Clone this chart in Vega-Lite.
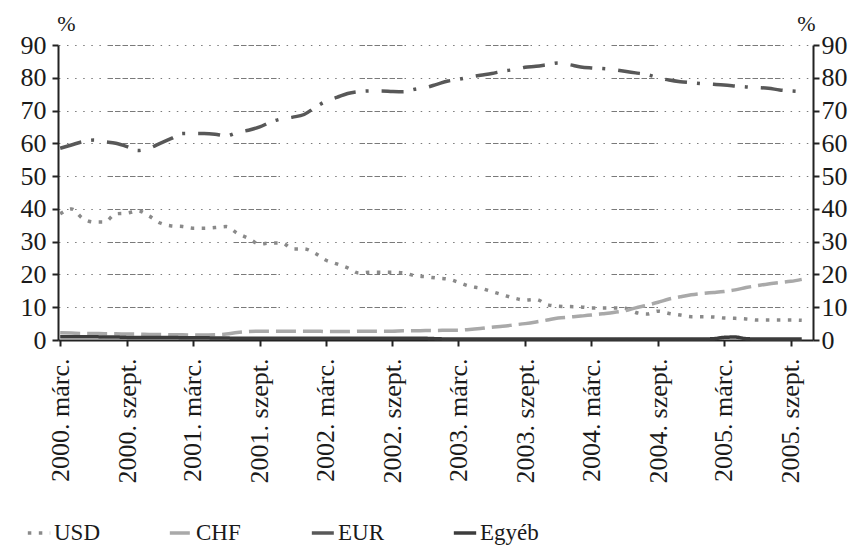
{
  "$schema": "https://vega.github.io/schema/vega-lite/v6.json",
  "width": 755,
  "height": 295,
  "autosize": {"type": "none"},
  "padding": {"left": 58, "top": 45, "right": 48, "bottom": 206},
  "background": "#ffffff",
  "config": {
    "font": "Liberation Serif",
    "view": {"stroke": null},
    "style": {
      "guide-label": {"font": "Liberation Serif", "fill": "#1a1a1a"},
      "guide-title": {"font": "Liberation Serif", "fill": "#1a1a1a"}
    },
    "axis": {
      "labelFont": "Liberation Serif",
      "labelColor": "#1a1a1a",
      "domainColor": "#222222",
      "domainWidth": 2,
      "tickColor": "#222222",
      "tickWidth": 2,
      "tickSize": 6,
      "titleFont": "Liberation Serif",
      "titleFontWeight": "normal",
      "titleColor": "#1a1a1a"
    },
    "legend": {
      "orient": "none",
      "legendX": -32,
      "legendY": 475,
      "direction": "horizontal",
      "columns": 4,
      "gridAlign": "all",
      "columnPadding": 49,
      "padding": 0,
      "symbolType": "stroke",
      "symbolSize": 500,
      "symbolStrokeWidth": 3.5,
      "labelFont": "Liberation Serif",
      "labelFontSize": 23,
      "labelColor": "#1a1a1a",
      "labelOffset": 2
    }
  },
  "data": {
    "values": [
      {"date": "2000-03-01", "USD": 38.5, "CHF": 2.2, "EUR": 58.5, "Egyéb": 1.0},
      {"date": "2000-04-01", "USD": 40.0, "CHF": 2.1, "EUR": 59.5, "Egyéb": 1.0},
      {"date": "2000-05-01", "USD": 37.2, "CHF": 2.0, "EUR": 60.5, "Egyéb": 1.0},
      {"date": "2000-06-01", "USD": 36.0, "CHF": 2.0, "EUR": 61.0, "Egyéb": 1.0},
      {"date": "2000-07-01", "USD": 36.0, "CHF": 1.9, "EUR": 60.5, "Egyéb": 0.9},
      {"date": "2000-08-01", "USD": 38.5, "CHF": 1.9, "EUR": 60.0, "Egyéb": 0.9},
      {"date": "2000-09-01", "USD": 38.7, "CHF": 1.8, "EUR": 59.0, "Egyéb": 0.8},
      {"date": "2000-10-01", "USD": 39.4, "CHF": 1.8, "EUR": 57.8, "Egyéb": 0.8},
      {"date": "2000-11-01", "USD": 37.8, "CHF": 1.7, "EUR": 58.5, "Egyéb": 0.8},
      {"date": "2000-12-01", "USD": 35.7, "CHF": 1.7, "EUR": 60.0, "Egyéb": 0.8},
      {"date": "2001-01-01", "USD": 34.8, "CHF": 1.6, "EUR": 61.5, "Egyéb": 0.8},
      {"date": "2001-02-01", "USD": 34.6, "CHF": 1.6, "EUR": 63.0, "Egyéb": 0.7},
      {"date": "2001-03-01", "USD": 34.1, "CHF": 1.5, "EUR": 63.0, "Egyéb": 0.7},
      {"date": "2001-04-01", "USD": 34.1, "CHF": 1.5, "EUR": 63.0, "Egyéb": 0.7},
      {"date": "2001-05-01", "USD": 34.3, "CHF": 1.6, "EUR": 62.8, "Egyéb": 0.6},
      {"date": "2001-06-01", "USD": 34.6, "CHF": 1.8, "EUR": 62.3, "Egyéb": 0.6},
      {"date": "2001-07-01", "USD": 32.6, "CHF": 2.3, "EUR": 63.3, "Egyéb": 0.5},
      {"date": "2001-08-01", "USD": 31.0, "CHF": 2.6, "EUR": 64.0, "Egyéb": 0.5},
      {"date": "2001-09-01", "USD": 29.3, "CHF": 2.7, "EUR": 65.0, "Egyéb": 0.5},
      {"date": "2001-10-01", "USD": 29.6, "CHF": 2.7, "EUR": 66.5, "Egyéb": 0.5},
      {"date": "2001-11-01", "USD": 29.6, "CHF": 2.7, "EUR": 67.5, "Egyéb": 0.5},
      {"date": "2001-12-01", "USD": 27.8, "CHF": 2.7, "EUR": 68.0, "Egyéb": 0.5},
      {"date": "2002-01-01", "USD": 27.8, "CHF": 2.7, "EUR": 68.8, "Egyéb": 0.5},
      {"date": "2002-02-01", "USD": 26.4, "CHF": 2.7, "EUR": 71.0, "Egyéb": 0.5},
      {"date": "2002-03-01", "USD": 24.4, "CHF": 2.6, "EUR": 72.8, "Egyéb": 0.5},
      {"date": "2002-04-01", "USD": 23.2, "CHF": 2.6, "EUR": 74.0, "Egyéb": 0.5},
      {"date": "2002-05-01", "USD": 22.0, "CHF": 2.6, "EUR": 75.2, "Egyéb": 0.5},
      {"date": "2002-06-01", "USD": 20.4, "CHF": 2.7, "EUR": 75.8, "Egyéb": 0.5},
      {"date": "2002-07-01", "USD": 20.7, "CHF": 2.7, "EUR": 76.0, "Egyéb": 0.5},
      {"date": "2002-08-01", "USD": 20.7, "CHF": 2.7, "EUR": 76.0, "Egyéb": 0.5},
      {"date": "2002-09-01", "USD": 20.7, "CHF": 2.7, "EUR": 75.8, "Egyéb": 0.5},
      {"date": "2002-10-01", "USD": 20.5, "CHF": 2.8, "EUR": 75.7, "Egyéb": 0.5},
      {"date": "2002-11-01", "USD": 19.6, "CHF": 2.8, "EUR": 76.5, "Egyéb": 0.5},
      {"date": "2002-12-01", "USD": 19.3, "CHF": 2.9, "EUR": 77.0, "Egyéb": 0.5},
      {"date": "2003-01-01", "USD": 18.9, "CHF": 2.9, "EUR": 78.0, "Egyéb": 0.4},
      {"date": "2003-02-01", "USD": 18.6, "CHF": 3.0, "EUR": 79.0, "Egyéb": 0.3},
      {"date": "2003-03-01", "USD": 17.6, "CHF": 3.0, "EUR": 79.5, "Egyéb": 0.3},
      {"date": "2003-04-01", "USD": 16.4, "CHF": 3.2, "EUR": 80.2, "Egyéb": 0.3},
      {"date": "2003-05-01", "USD": 15.8, "CHF": 3.5, "EUR": 80.8, "Egyéb": 0.3},
      {"date": "2003-06-01", "USD": 14.8, "CHF": 3.9, "EUR": 81.3, "Egyéb": 0.3},
      {"date": "2003-07-01", "USD": 13.8, "CHF": 4.2, "EUR": 82.0, "Egyéb": 0.3},
      {"date": "2003-08-01", "USD": 12.8, "CHF": 4.6, "EUR": 82.5, "Egyéb": 0.3},
      {"date": "2003-09-01", "USD": 12.2, "CHF": 5.0, "EUR": 83.2, "Egyéb": 0.3},
      {"date": "2003-10-01", "USD": 12.4, "CHF": 5.5, "EUR": 83.5, "Egyéb": 0.3},
      {"date": "2003-11-01", "USD": 10.8, "CHF": 6.1, "EUR": 84.0, "Egyéb": 0.3},
      {"date": "2003-12-01", "USD": 10.3, "CHF": 6.7, "EUR": 84.5, "Egyéb": 0.3},
      {"date": "2004-01-01", "USD": 10.2, "CHF": 7.0, "EUR": 84.0, "Egyéb": 0.3},
      {"date": "2004-02-01", "USD": 10.1, "CHF": 7.3, "EUR": 83.3, "Egyéb": 0.3},
      {"date": "2004-03-01", "USD": 9.8, "CHF": 7.6, "EUR": 83.0, "Egyéb": 0.3},
      {"date": "2004-04-01", "USD": 9.8, "CHF": 8.0, "EUR": 82.8, "Egyéb": 0.3},
      {"date": "2004-05-01", "USD": 9.8, "CHF": 8.4, "EUR": 82.5, "Egyéb": 0.3},
      {"date": "2004-06-01", "USD": 9.7, "CHF": 8.9, "EUR": 82.0, "Egyéb": 0.3},
      {"date": "2004-07-01", "USD": 8.4, "CHF": 9.8, "EUR": 81.5, "Egyéb": 0.3},
      {"date": "2004-08-01", "USD": 7.9, "CHF": 10.6, "EUR": 81.0, "Egyéb": 0.3},
      {"date": "2004-09-01", "USD": 8.8, "CHF": 11.5, "EUR": 80.0, "Egyéb": 0.3},
      {"date": "2004-10-01", "USD": 8.1, "CHF": 12.5, "EUR": 79.3, "Egyéb": 0.3},
      {"date": "2004-11-01", "USD": 7.6, "CHF": 13.2, "EUR": 78.8, "Egyéb": 0.3},
      {"date": "2004-12-01", "USD": 7.1, "CHF": 13.8, "EUR": 78.5, "Egyéb": 0.3},
      {"date": "2005-01-01", "USD": 7.1, "CHF": 14.2, "EUR": 78.2, "Egyéb": 0.3},
      {"date": "2005-02-01", "USD": 7.0, "CHF": 14.5, "EUR": 78.0, "Egyéb": 0.4},
      {"date": "2005-03-01", "USD": 6.7, "CHF": 14.8, "EUR": 77.8, "Egyéb": 0.8},
      {"date": "2005-04-01", "USD": 6.6, "CHF": 15.3, "EUR": 77.5, "Egyéb": 0.9},
      {"date": "2005-05-01", "USD": 6.4, "CHF": 16.0, "EUR": 77.2, "Egyéb": 0.4},
      {"date": "2005-06-01", "USD": 6.1, "CHF": 16.6, "EUR": 77.0, "Egyéb": 0.3},
      {"date": "2005-07-01", "USD": 6.1, "CHF": 17.1, "EUR": 76.8, "Egyéb": 0.3},
      {"date": "2005-08-01", "USD": 6.1, "CHF": 17.5, "EUR": 76.3, "Egyéb": 0.3},
      {"date": "2005-09-01", "USD": 6.1, "CHF": 17.9, "EUR": 76.0, "Egyéb": 0.3},
      {"date": "2005-10-01", "USD": 6.0, "CHF": 18.5, "EUR": 75.8, "Egyéb": 0.3}
    ]
  },
  "transform": [
    {"fold": ["USD", "CHF", "EUR", "Egyéb"], "as": ["series", "value"]}
  ],
  "layer": [
    {
      "mark": {"type": "line", "strokeWidth": 3.5, "interpolate": "monotone"},
      "encoding": {
        "x": {
          "field": "date",
          "type": "temporal",
          "scale": {
            "type": "utc",
            "domain": [
              {"year": 2000, "month": 2, "date": 24, "utc": true},
              {"year": 2005, "month": 11, "date": 1, "utc": true}
            ]
          },
          "axis": {
            "title": null,
            "grid": false,
            "values": [
              {"year": 2000, "month": 3, "date": 1, "utc": true},
              {"year": 2000, "month": 9, "date": 1, "utc": true},
              {"year": 2001, "month": 3, "date": 1, "utc": true},
              {"year": 2001, "month": 9, "date": 1, "utc": true},
              {"year": 2002, "month": 3, "date": 1, "utc": true},
              {"year": 2002, "month": 9, "date": 1, "utc": true},
              {"year": 2003, "month": 3, "date": 1, "utc": true},
              {"year": 2003, "month": 9, "date": 1, "utc": true},
              {"year": 2004, "month": 3, "date": 1, "utc": true},
              {"year": 2004, "month": 9, "date": 1, "utc": true},
              {"year": 2005, "month": 3, "date": 1, "utc": true},
              {"year": 2005, "month": 9, "date": 1, "utc": true}
            ],
            "labelExpr": "utcFormat(datum.value, '%Y') + '. ' + (utcmonth(datum.value) == 2 ? 'márc.' : 'szept.')",
            "labelAngle": 270,
            "labelFontSize": 26,
            "labelPadding": 12,
            "labelOverlap": false,
            "labelFlush": false
          }
        },
        "y": {
          "field": "value",
          "type": "quantitative",
          "scale": {"domain": [0, 90], "nice": false},
          "axis": {
            "orient": "left",
            "values": [0, 10, 20, 30, 40, 50, 60, 70, 80, 90],
            "title": "%",
            "titleAngle": 0,
            "titleX": 8,
            "titleY": -22,
            "titleAlign": "center",
            "titleBaseline": "middle",
            "titleFontSize": 22,
            "labelFontSize": 26,
            "labelPadding": 6,
            "grid": true,
            "gridColor": "#7a7a7a",
            "gridWidth": 1.2,
            "gridDash": [1.5, 6.6, 1.5, 6.6, 1.5, 6.6, 1.5, 6.6, 1.5, 6.6, 1.5, 6.6, 1.5, 6.6, 1.5, 6.6, 1.5, 6.6, 1.5, 6.6, 5.5, 2, 5.5, 2, 5.5, 2, 5.5, 2, 5.5, 2, 5.5, 2],
            "gridDashOffset": 32
          }
        },
        "color": {
          "field": "series",
          "type": "nominal",
          "title": null,
          "scale": {
            "domain": ["USD", "CHF", "EUR", "Egyéb"],
            "range": ["#8a8a8a", "#a9a9a9", "#585858", "#3c3c3c"]
          },
          "legend": {"labelFont": "Liberation Serif", "labelFontSize": 23}
        },
        "strokeDash": {
          "field": "series",
          "type": "nominal",
          "title": null,
          "scale": {
            "domain": ["USD", "CHF", "EUR", "Egyéb"],
            "range": [[3.5, 7.5], [20, 7], [22, 10, 3, 13], [1, 0]]
          },
          "legend": {"labelFont": "Liberation Serif", "labelFontSize": 23}
        }
      }
    },
    {
      "mark": {"type": "line", "opacity": 0},
      "encoding": {
        "x": {"field": "date", "type": "temporal"},
        "y": {
          "field": "value",
          "type": "quantitative",
          "axis": {
            "orient": "right",
            "values": [0, 10, 20, 30, 40, 50, 60, 70, 80, 90],
            "title": "%",
            "titleAngle": 0,
            "titleX": -7,
            "titleY": -22,
            "titleAlign": "center",
            "titleBaseline": "middle",
            "titleFontSize": 22,
            "labelFontSize": 26,
            "labelPadding": 2,
            "grid": false
          }
        },
        "detail": {"field": "series", "type": "nominal"}
      }
    }
  ],
  "resolve": {"axis": {"y": "independent"}}
}
